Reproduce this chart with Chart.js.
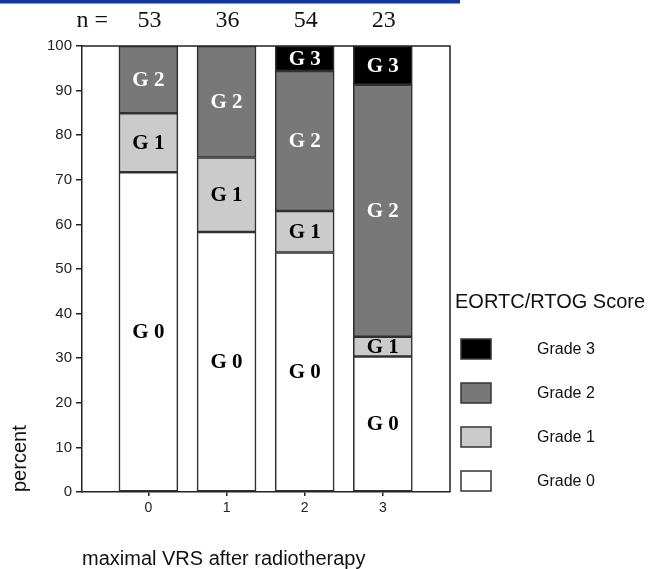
<!DOCTYPE html>
<html>
<head>
<meta charset="utf-8">
<script src="https://cdn.jsdelivr.net/npm/chart.js@4/dist/chart.umd.min.js"></script>
<style>
  html, body { margin: 0; padding: 0; background: #ffffff; }
  canvas { display: block; }
</style>
</head>
<body>
<canvas id="c" width="653" height="569"></canvas>
<script>
// maximal VRS after radiotherapy vs. EORTC/RTOG grade (percent of patients)
const vrsLevels = [0, 1, 2, 3];
const tickLabels = ['0', '1', '2', '3'];
const patientCounts = [53, 36, 54, 23];
const yTicks = [0, 10, 20, 30, 40, 50, 60, 70, 80, 90, 100];

const grade0 = [71.7, 58.3, 53.7, 30.4];
const grade1 = [13.2, 16.7, 9.3, 4.4];
const grade2 = [15.1, 25.0, 31.4, 56.5];
const grade3 = [null, null, 5.6, 8.7];

const gradeNames = ['Grade 0', 'Grade 1', 'Grade 2', 'Grade 3'];
const segmentTags = ['G 0', 'G 1', 'G 2', 'G 3'];
const legendTitle = 'EORTC/RTOG Score';
const xTitle = 'maximal VRS after radiotherapy';
const yTitle = 'percent';

const fills = ['#ffffff', '#cbcbcb', '#787878', '#000000'];
const tagColors = ['#000000', '#000000', '#ffffff', '#ffffff'];
const INK = '#222222';
const SANS = "'Liberation Sans', Arial, sans-serif";
const SERIF = "'Liberation Serif', 'Times New Roman', serif";

const gradeSeries = [grade0, grade1, grade2, grade3];
const datasets = gradeSeries.map((vals, g) => ({
  label: gradeNames[g],
  data: vrsLevels.map((x, i) => ({ x: x, y: vals[i] })),
  backgroundColor: fills[g],
  borderColor: '#303030',
  borderWidth: 1.6,
  borderSkipped: false,
  barThickness: 59,
  tag: segmentTags[g],
  tagColor: tagColors[g]
}));

const decor = {
  id: 'decor',
  afterDatasetsDraw(chart) {
    const ctx = chart.ctx;
    ctx.save();
    ctx.font = 'bold 21px ' + SERIF;
    ctx.textAlign = 'center';
    ctx.textBaseline = 'middle';
    chart.data.datasets.forEach((ds, di) => {
      const meta = chart.getDatasetMeta(di);
      meta.data.forEach((el, i) => {
        const v = ds.data[i].y;
        if (v === null || v === undefined) return;
        ctx.fillStyle = ds.tagColor;
        ctx.fillText(ds.tag, el.x, (el.y + el.base) / 2 + 1);
      });
    });
    ctx.restore();
  },
  afterDraw(chart) {
    const ctx = chart.ctx;
    const a = chart.chartArea;
    const xs = chart.scales.x;
    ctx.save();

    // closing frame: top and right edges of the plot box
    ctx.strokeStyle = INK;
    ctx.lineWidth = 1.5;
    ctx.beginPath();
    ctx.moveTo(a.left, a.top);
    ctx.lineTo(a.right, a.top);
    ctx.lineTo(a.right, a.bottom);
    ctx.stroke();

    // header rule
    ctx.fillStyle = '#14389a';
    ctx.fillRect(0, 0, 460, 3.5);

    // group sizes above the bars
    ctx.fillStyle = '#111111';
    ctx.font = '24px ' + SERIF;
    ctx.textBaseline = 'middle';
    ctx.textAlign = 'right';
    ctx.fillText('n =', 108, 21);
    ctx.textAlign = 'center';
    vrsLevels.forEach((x, i) => {
      ctx.fillText(String(patientCounts[i]), xs.getPixelForValue(x) + 1, 21);
    });

    // legend
    ctx.textAlign = 'left';
    ctx.font = '20px ' + SANS;
    ctx.fillStyle = '#111111';
    ctx.fillText(legendTitle, 455, 302);
    ctx.font = '16px ' + SANS;
    for (let k = 0; k < 4; k++) {
      const g = 3 - k;
      const top = 339 + k * 44;
      ctx.fillStyle = fills[g];
      ctx.fillRect(461, top, 30, 20);
      ctx.strokeStyle = '#333333';
      ctx.lineWidth = 1.5;
      ctx.strokeRect(461, top, 30, 20);
      ctx.fillStyle = '#111111';
      ctx.fillText(gradeNames[g], 537, top + 11);
    }
    ctx.restore();
  }
};

new Chart(document.getElementById('c'), {
  type: 'bar',
  data: { datasets: datasets },
  plugins: [decor],
  options: {
    responsive: false,
    animation: false,
    devicePixelRatio: 1,
    layout: { padding: { left: 0, top: 46, right: 203, bottom: 0 } },
    plugins: { legend: { display: false }, tooltip: { enabled: false } },
    scales: {
      x: {
        type: 'linear',
        stacked: true,
        offset: false,
        min: -0.85,
        max: 3.86,
        afterBuildTicks(scale) { scale.ticks = vrsLevels.map(v => ({ value: v })); },
        afterFit(scale) { scale.height = 77; },
        ticks: {
          callback: (v) => tickLabels[vrsLevels.indexOf(v)],
          color: INK,
          font: { family: SANS, size: 14 },
          padding: 4,
          maxRotation: 0,
          autoSkip: false
        },
        grid: { offset: false, drawOnChartArea: false, drawTicks: true, tickLength: 4, color: INK, lineWidth: 1.5 },
        border: { display: true, color: INK, width: 1.5 },
        title: {
          display: true,
          text: xTitle,
          align: 'start',
          color: '#111111',
          font: { family: SANS, size: 20, lineHeight: 0.6 },
          padding: { top: 0, bottom: 4 }
        }
      },
      y: {
        stacked: true,
        min: 0,
        max: 100,
        afterBuildTicks(scale) { scale.ticks = yTicks.map(v => ({ value: v })); },
        afterFit(scale) { scale.width = 82; },
        ticks: {
          color: INK,
          font: { family: SANS, size: 15 },
          padding: 4
        },
        grid: { drawOnChartArea: false, drawTicks: true, tickLength: 6, color: INK, lineWidth: 1.5 },
        border: { display: true, color: INK, width: 1.5 },
        title: {
          display: true,
          text: yTitle,
          align: 'start',
          color: '#111111',
          font: { family: SANS, size: 20 },
          padding: { top: 8, bottom: 0 }
        }
      }
    }
  }
});
</script>
</body>
</html>
